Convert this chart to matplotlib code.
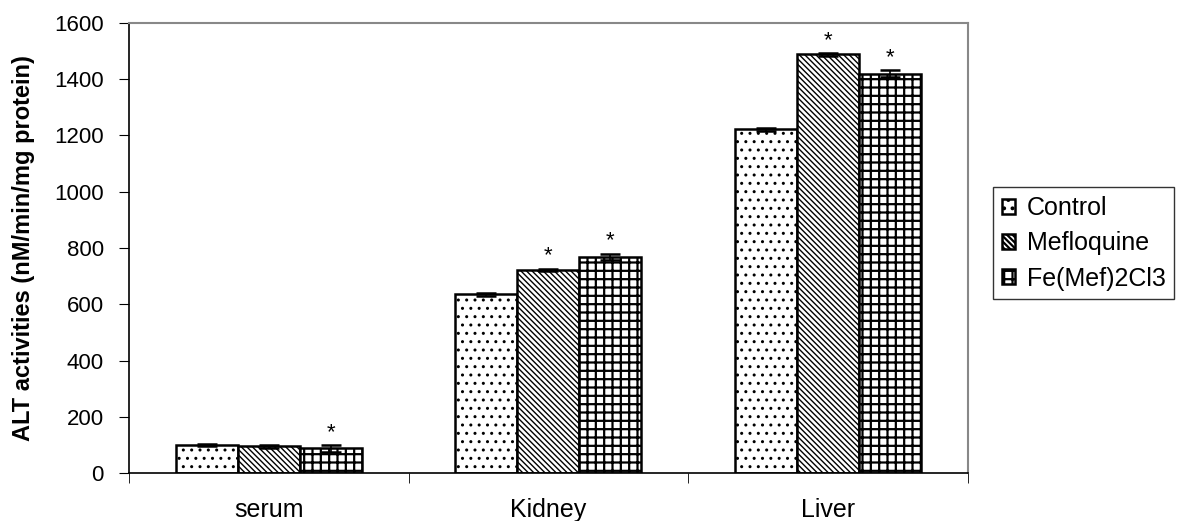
import numpy as np
import matplotlib
matplotlib.use('Agg')
import matplotlib.pyplot as plt

plt.rcParams['font.family'] = ['Liberation Sans', 'DejaVu Sans']

# data
categories = ['serum', 'Kidney', 'Liver']
series = ['Control', 'Mefloquine', 'Fe(Mef)2Cl3']
control = [100, 635, 1222]
mefloquine = [95, 722, 1488]
fe_mef = [88, 768, 1420]
control_err = [3, 5, 5]
mefloquine_err = [5, 5, 5]
fe_mef_err = [12, 12, 12]
# significance stars: (category index, series index)
stars = [(0, 2), (1, 1), (1, 2), (2, 1), (2, 2)]

values = [control, mefloquine, fe_mef]
errors = [control_err, mefloquine_err, fe_mef_err]
hatches = ['..', '\\' * 6, '++']
hatch_lw = [1.0, 1.0, 1.6]

fig = plt.figure(figsize=(11.83, 5.21), dpi=100)
ax = fig.add_axes([0.109, 0.092, 0.709, 0.864])

x = np.arange(len(categories))
w = 0.222
for i, name in enumerate(series):
    plt.rcParams['hatch.linewidth'] = hatch_lw[i]
    ax.bar(x + (i - 1) * w, values[i], w, yerr=errors[i], label=name,
           color='white', edgecolor='black', hatch=hatches[i], linewidth=1.8,
           error_kw=dict(ecolor='black', elinewidth=1.2, capsize=7, capthick=1.8))

for ci, si in stars:
    top = values[si][ci] + errors[si][ci]
    ax.text(x[ci] + (si - 1) * w, top + 45, '*', ha='center', va='center', fontsize=16)

ax.set_xlim(-0.5, 2.5)
ax.set_ylim(0, 1600)
ax.set_yticks(np.arange(0, 1601, 200))
ax.set_xticks(x)
ax.set_xticklabels(categories, fontsize=18)
ax.set_xticks([-0.5, 0.5, 1.5, 2.5], minor=True)
ax.tick_params(axis='x', which='major', length=0, pad=18)
ax.tick_params(axis='x', which='minor', length=7, direction='out')
ax.tick_params(axis='y', labelsize=16, length=7, direction='out', pad=11)
ax.set_ylabel('ALT activities (nM/min/mg protein)', fontsize=17, fontweight='bold', labelpad=14)

for side in ['top', 'right']:
    ax.spines[side].set_color('#888888')
    ax.spines[side].set_linewidth(1.5)
for side in ['left', 'bottom']:
    ax.spines[side].set_linewidth(1.2)

leg = ax.legend(loc='center left', bbox_to_anchor=(1.03, 0.51), fontsize=18,
                frameon=True, fancybox=False, edgecolor='black',
                handlelength=0.55, handleheight=0.55, handletextpad=0.45,
                borderpad=0.35, labelspacing=0.45, borderaxespad=0)
leg.get_frame().set_linewidth(1.0)

fig.savefig('out.png', dpi=100)
